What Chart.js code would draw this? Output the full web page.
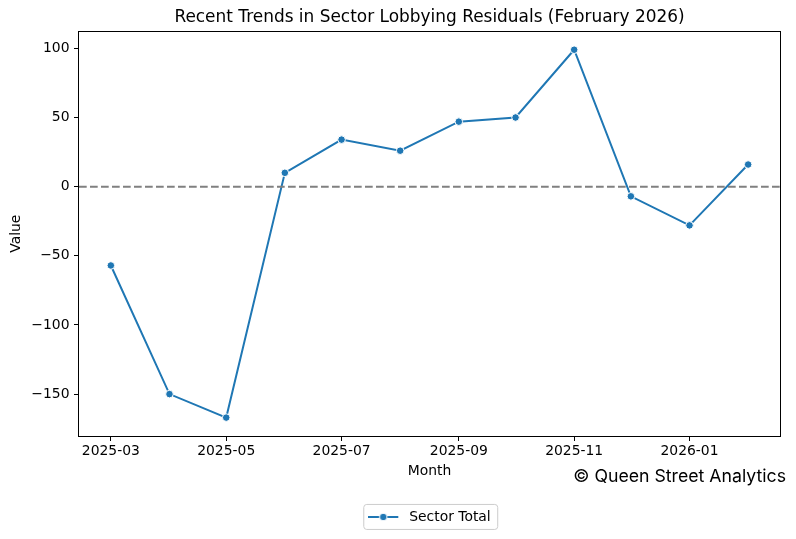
<!DOCTYPE html>
<html>
<head>
<meta charset="utf-8">
<title>Sector Lobbying Residuals</title>
<script src="https://cdn.jsdelivr.net/npm/chart.js@4"></script>
<style>
  html, body { margin: 0; padding: 0; background: #fff; }
  canvas { display: block; }
</style>
</head>
<body>
<canvas id="residualChart" width="796" height="539"></canvas>
<script>
const months = ['2025-03', '2025-04', '2025-05', '2025-06', '2025-07', '2025-08',
                '2025-09', '2025-10', '2025-11', '2025-12', '2026-01', '2026-02'];
const sectorTotal = [-57, -150, -167, 10, 34, 26, 47, 50, 99, -7, -28, 16];
const xTickLabels = ['2025-03', '2025-05', '2025-07', '2025-09', '2025-11', '2026-01'];
const yTicks = [-150, -100, -50, 0, 50, 100];
const referenceLevel = 0;
const chartTitle = 'Recent Trends in Sector Lobbying Residuals (February 2026)';
const creditText = '\u00a9 Queen Street Analytics';

const blue = '#1f77b4';
const tickFont = { family: 'DejaVu Sans', size: 13.9 };

// months -> day numbers so the x axis is spaced like real dates
function monthToDay(label) {
  const [y, m] = label.split('-').map(Number);
  return Date.UTC(y, m - 1, 1) / 86400000;
}
function dayToMonth(day) {
  const d = new Date(day * 86400000);
  return d.getUTCFullYear() + '-' + String(d.getUTCMonth() + 1).padStart(2, '0');
}

const xValues = months.map(monthToDay);
const xSpan = xValues[xValues.length - 1] - xValues[0];
const xMin = xValues[0] - 0.05 * xSpan;
const xMax = xValues[xValues.length - 1] + 0.05 * xSpan;
const yLow = Math.min(...sectorTotal);
const yHigh = Math.max(...sectorTotal);
const yMin = yLow - 0.05 * (yHigh - yLow);
const yMax = yHigh + 0.05 * (yHigh - yLow);

// line + dot sample for the legend
function legendHandle() {
  const c = document.createElement('canvas');
  c.width = 34;
  c.height = 12;
  const g = c.getContext('2d');
  g.strokeStyle = blue;
  g.lineWidth = 2;
  g.beginPath();
  g.moveTo(0, 6);
  g.lineTo(30, 6);
  g.stroke();
  g.beginPath();
  g.arc(15, 6, 3.8, 0, Math.PI * 2);
  g.fillStyle = blue;
  g.fill();
  g.strokeStyle = '#fff';
  g.lineWidth = 1;
  g.stroke();
  return c;
}

const decorations = {
  id: 'decorations',
  beforeDraw(chart) {
    const box = chart.legend.legendHitBoxes[0];
    if (!box) return;
    const { ctx } = chart;
    const cy = box.top + box.height / 2;
    ctx.save();
    ctx.beginPath();
    ctx.roundRect(box.left - 4.5, cy - 12.5, box.width + 11.5, 25, 3);
    ctx.fillStyle = 'rgba(255,255,255,0.8)';
    ctx.fill();
    ctx.strokeStyle = '#cccccc';
    ctx.lineWidth = 1;
    ctx.stroke();
    ctx.restore();
  },
  afterDraw(chart) {
    const { ctx, chartArea: a } = chart;
    ctx.save();
    ctx.strokeStyle = '#000';
    ctx.lineWidth = 1;
    ctx.strokeRect(Math.round(a.left) - 0.5, Math.round(a.top) + 0.5,
                   Math.round(a.right - a.left) + 1, Math.round(a.bottom - a.top));
    ctx.fillStyle = '#000';
    ctx.font = '400 17.7px Inter';
    ctx.textAlign = 'right';
    ctx.textBaseline = 'alphabetic';
    ctx.fillText(creditText, 786, 481.5);
    ctx.restore();
  }
};

const chart = new Chart(document.getElementById('residualChart'), {
  type: 'line',
  data: {
    datasets: [{
      label: 'Sector Total',
      data: xValues.map((x, i) => ({ x: x, y: sectorTotal[i] })),
      borderColor: blue,
      backgroundColor: blue,
      borderWidth: 2,
      tension: 0,
      pointRadius: 3.8,
      pointBorderWidth: 1,
      pointBackgroundColor: blue,
      pointBorderColor: '#fff',
      order: 1
    }, {
      label: 'zero',
      data: [{ x: xMin, y: referenceLevel }, { x: xMax, y: referenceLevel }],
      borderColor: '#808080',
      borderWidth: 2,
      borderDash: [7.7, 3.3],
      pointRadius: 0,
      order: 0
    }]
  },
  options: {
    responsive: false,
    animation: false,
    layout: { padding: { left: 0, right: 16, top: 0, bottom: 5.1 } },
    scales: {
      x: {
        type: 'linear',
        min: xMin,
        max: xMax,
        afterBuildTicks: (scale) => {
          scale.ticks = xTickLabels.map(l => ({ value: monthToDay(l) }));
        },
        afterFit: (scale) => { scale.height = 64; },
        ticks: {
          callback: (v) => dayToMonth(v),
          color: '#000',
          font: tickFont,
          padding: 2,
          maxRotation: 0,
          autoSkip: false
        },
        grid: {
          drawOnChartArea: false,
          drawTicks: true,
          tickLength: 5,
          tickColor: '#000'
        },
        border: { display: false },
        title: {
          display: true,
          text: 'Month',
          color: '#000',
          font: tickFont,
          padding: { top: 0, bottom: 20 }
        }
      },
      y: {
        min: yMin,
        max: yMax,
        afterBuildTicks: (scale) => {
          scale.ticks = yTicks.map(v => ({ value: v }));
        },
        afterFit: (scale) => { scale.width = 79; },
        ticks: {
          callback: (v) => String(v).replace('-', '\u2212'),
          color: '#000',
          font: tickFont,
          padding: 4.5
        },
        grid: {
          drawOnChartArea: false,
          drawTicks: true,
          tickLength: 5,
          tickColor: '#000'
        },
        border: { display: false },
        title: {
          display: true,
          text: 'Value',
          color: '#000',
          font: tickFont,
          padding: { top: 7.6, bottom: 0 }
        }
      }
    },
    plugins: {
      title: {
        display: true,
        text: chartTitle,
        fullSize: false,
        color: '#000',
        font: { family: 'DejaVu Sans', size: 16.95, weight: 'normal' },
        padding: { top: 7, bottom: 4 }
      },
      legend: {
        position: 'bottom',
        fullSize: false,
        labels: {
          filter: (item) => item.datasetIndex === 0,
          usePointStyle: true,
          pointStyle: legendHandle(),
          pointStyleWidth: 34,
          color: '#000',
          font: tickFont,
          padding: 10
        }
      },
      tooltip: { enabled: false }
    }
  },
  plugins: [decorations]
});
</script>
</body>
</html>
